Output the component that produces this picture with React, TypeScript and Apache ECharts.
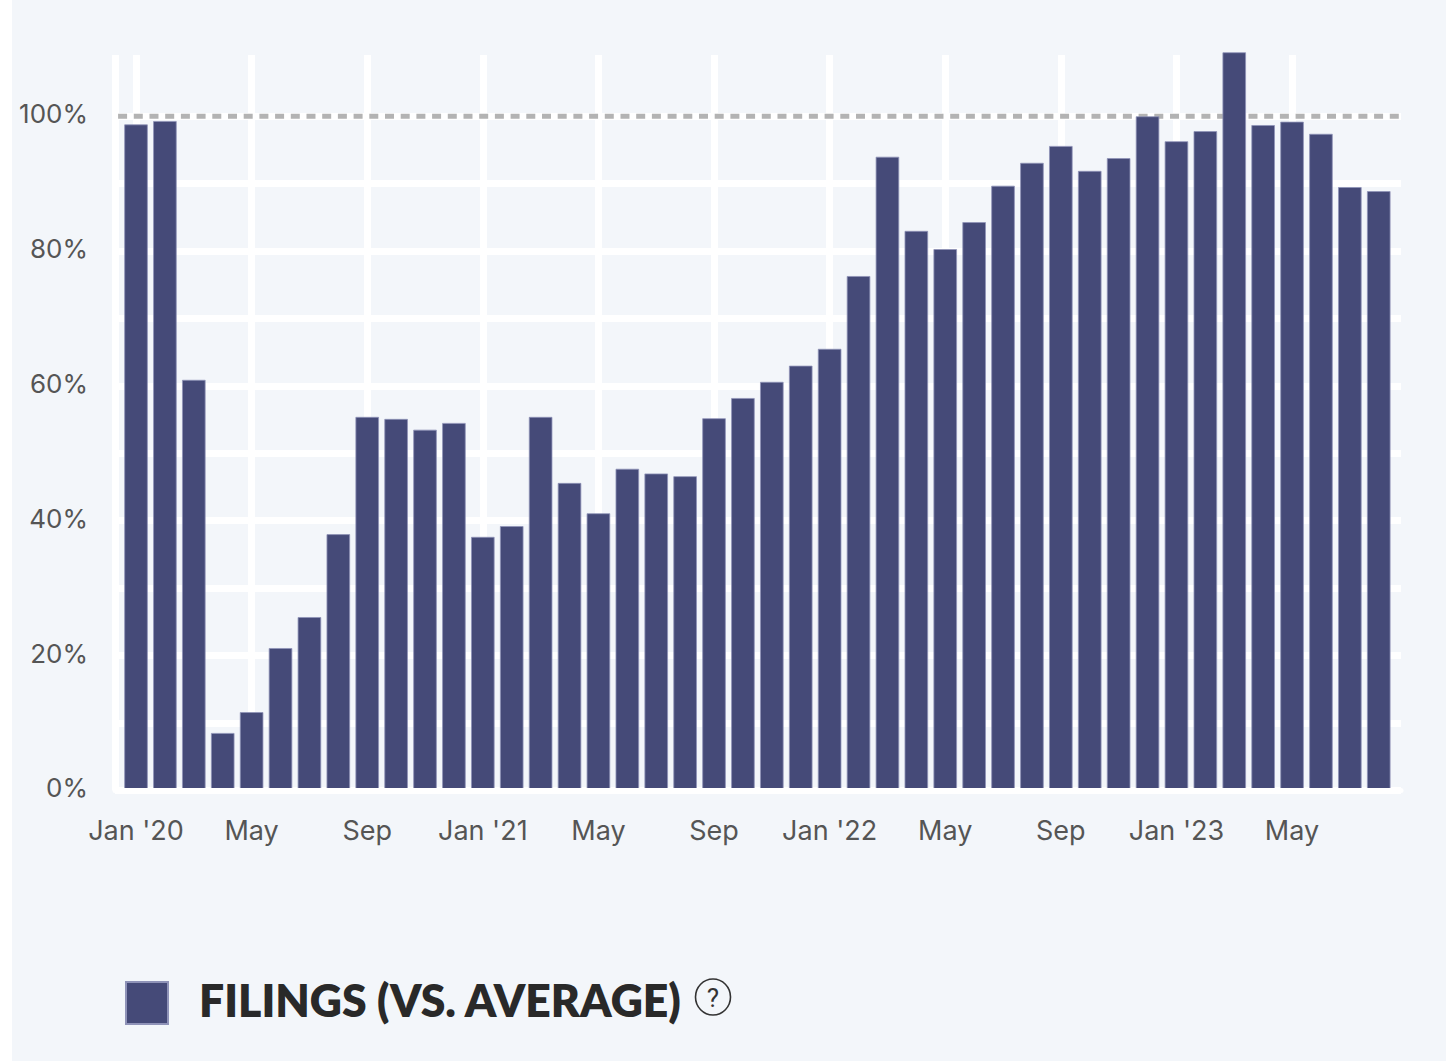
import React, { useEffect, useRef } from "react";
import * as echarts from "echarts";

const months = [
  "Jan '20","Feb","Mar","Apr","May","Jun","Jul","Aug","Sep","Oct","Nov","Dec",
  "Jan '21","Feb","Mar","Apr","May","Jun","Jul","Aug","Sep","Oct","Nov","Dec",
  "Jan '22","Feb","Mar","Apr","May","Jun","Jul","Aug","Sep","Oct","Nov","Dec",
  "Jan '23","Feb","Mar","Apr","May","Jun","Jul","Aug",
];
const filings = [
  98.8,99.3,60.9,8.5,11.6,21.1,25.7,38.0,55.4,55.1,53.5,54.5,
  37.6,39.2,55.4,45.6,41.1,47.7,47.0,46.6,55.2,58.2,60.6,63.0,
  65.5,76.3,94.0,83.0,80.3,84.3,89.7,93.1,95.6,91.9,93.8,100.0,
  96.3,97.8,109.5,98.7,99.2,97.4,89.5,88.9,
];
const xTickIndexes = [0,4,8,12,16,20,24,28,32,36,40];
const yLabelValues = [0,20,40,60,80,100];
const yGridValues = [0,10,20,30,40,50,60,70,80,90,100];
const referenceLevel = 100;
const seriesName = "FILINGS (VS. AVERAGE)";

const labelColor = "#555555";
const labelFont = "Inter";

export default function App() {
  const ref = useRef<HTMLDivElement>(null);
  useEffect(() => {
    document.body.style.margin = "0";
    const chart = echarts.init(ref.current!, null, { renderer: "svg" });
    const xMin = -0.727;
    const xMax = 43.77;
    chart.setOption({
      animation: false,
      backgroundColor: "transparent",
      grid: { left: 115, right: 51, top: 55, height: 735.3 },
      legend: {
        left: 125,
        top: 977,
        padding: 0,
        data: [seriesName],
        icon: "rect",
        itemWidth: 42,
        itemHeight: 42,
        selectedMode: false,
        formatter: "{t|{name}}",
        textStyle: {
          rich: {
            t: {
              fontFamily: "Lato",
              fontSize: 44.5,
              fontWeight: 800,
              color: "#292929",
              padding: [0, 0, 7, 26],
            },
          },
        },
      },
      xAxis: [
        {
          type: "value",
          min: xMin,
          max: xMax,
          z: 0,
          axisLine: { show: false },
          axisTick: { show: false, customValues: [xMin, ...xTickIndexes] },
          axisLabel: {
            customValues: xTickIndexes,
            formatter: (v: number) => months[Math.round(v)] ?? "",
            color: labelColor,
            fontFamily: labelFont,
            fontSize: 27,
            margin: 27,
            hideOverlap: false,
          },
          splitLine: { show: true, lineStyle: { color: "#ffffff", width: 7 } },
        },
        {
          type: "value",
          position: "bottom",
          min: xMin,
          max: xMax,
          z: 3,
          axisLine: { show: true, onZero: false, lineStyle: { color: "#ffffff", width: 5 } },
          axisTick: { show: false },
          axisLabel: { show: false },
          splitLine: { show: false },
        },
      ],
      yAxis: {
        type: "value",
        min: 0,
        max: 109.1,
        interval: 10,
        axisLine: { show: false },
        axisTick: { show: false, customValues: yGridValues },
        axisLabel: {
          customValues: yLabelValues,
          formatter: "{value}%",
          color: labelColor,
          fontFamily: labelFont,
          fontSize: 26,
          margin: 27,
          verticalAlign: "bottom",
          lineHeight: 5,
        },
        splitLine: { show: true, lineStyle: { color: "#ffffff", width: 7 } },
      },
      series: [
        {
          type: "line",
          name: "Average",
          z: 1,
          symbol: "none",
          silent: true,
          data: [[-0.62, referenceLevel], [xMax, referenceLevel]],
          lineStyle: { color: "#b3b3b3", width: 5, type: [9, 6.7] },
        },
        {
          type: "bar",
          name: seriesName,
          z: 2,
          clip: false,
          barWidth: 23.5,
          data: filings.map((v, i) => [i, v]),
          itemStyle: { color: "#454a78", borderColor: "#8f93b8", borderWidth: 0.8 },
        },
      ],
      graphic: [
        {
          type: "ellipse",
          z: 10,
          shape: { cx: 713, cy: 997, rx: 17.5, ry: 18 },
          style: { fill: "transparent", stroke: "#333333", lineWidth: 1.6 },
        },
        {
          type: "text",
          z: 10,
          x: 713,
          y: 998,
          style: {
            text: "?",
            fill: "#333333",
            font: "26px Roboto",
            align: "center",
            verticalAlign: "middle",
          },
        },
      ],
    });
    return () => chart.dispose();
  }, []);
  return (
    <div style={{ position: "absolute", left: 0, top: 0, width: 1452, height: 1061, background: "#ffffff", overflow: "hidden" }}>
      <div style={{ position: "absolute", left: 12, top: 0, width: 1434, height: 1061, background: "#f3f6fa" }} />
      <div ref={ref} style={{ position: "absolute", left: 0, top: 0, width: 1452, height: 1061 }} />
    </div>
  );
}
